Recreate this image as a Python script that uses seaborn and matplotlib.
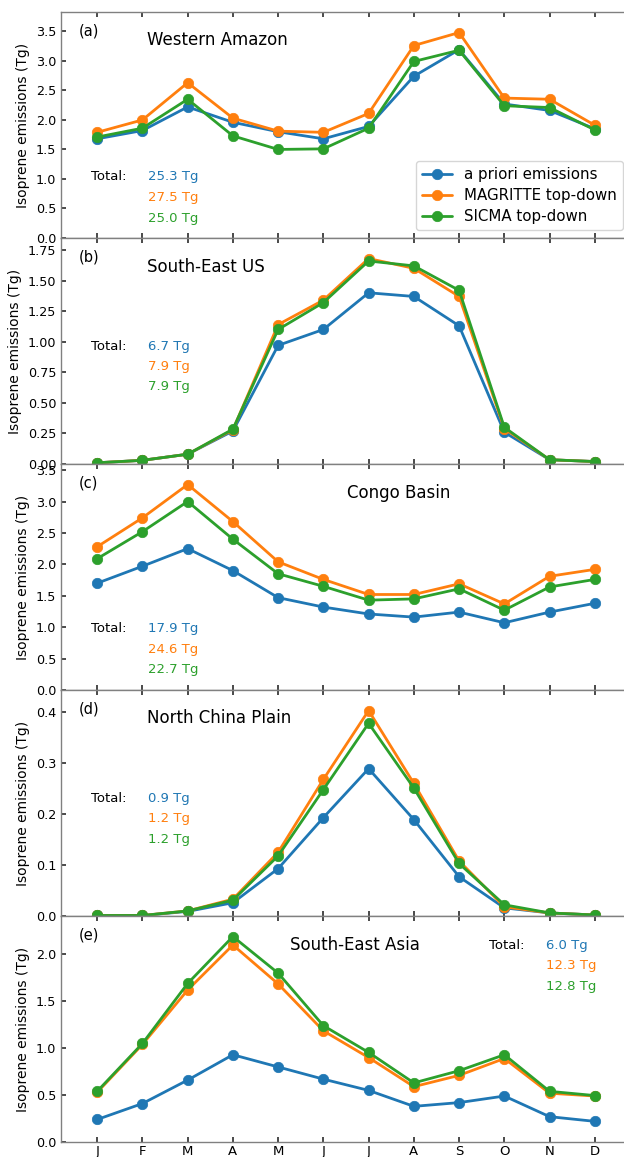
import numpy as np
import pandas as pd
import matplotlib
matplotlib.use("Agg")
import matplotlib.pyplot as plt
import seaborn as sns

# Monthly isoprene emissions (Tg) per region
months = ["J", "F", "M", "A", "M", "J", "J", "A", "S", "O", "N", "D"]
sources = ["a priori emissions", "MAGRITTE top-down", "SICMA top-down"]
colors = ["#1f77b4", "#ff7f0e", "#2ca02c"]

regions = ["Western Amazon", "South-East US", "Congo Basin",
           "North China Plain", "South-East Asia"]
panel_tags = ["(a)", "(b)", "(c)", "(d)", "(e)"]

amazon_prior = [1.68, 1.82, 2.22, 1.96, 1.80, 1.68, 1.89, 2.74, 3.19, 2.27, 2.16, 1.85]
amazon_magritte = [1.79, 2.00, 2.63, 2.03, 1.81, 1.79, 2.11, 3.26, 3.48, 2.37, 2.35, 1.91]
amazon_sicma = [1.71, 1.86, 2.35, 1.73, 1.50, 1.51, 1.86, 2.99, 3.18, 2.24, 2.21, 1.83]

seus_prior = [0.01, 0.03, 0.08, 0.27, 0.97, 1.10, 1.40, 1.37, 1.13, 0.26, 0.035, 0.02]
seus_magritte = [0.01, 0.03, 0.08, 0.28, 1.14, 1.34, 1.68, 1.60, 1.37, 0.29, 0.035, 0.02]
seus_sicma = [0.01, 0.03, 0.08, 0.285, 1.10, 1.32, 1.66, 1.62, 1.42, 0.30, 0.035, 0.02]

congo_prior = [1.70, 1.97, 2.25, 1.90, 1.47, 1.32, 1.21, 1.16, 1.24, 1.07, 1.24, 1.38]
congo_magritte = [2.28, 2.74, 3.27, 2.68, 2.04, 1.76, 1.52, 1.52, 1.69, 1.37, 1.81, 1.92]
congo_sicma = [2.09, 2.52, 3.00, 2.40, 1.85, 1.65, 1.43, 1.45, 1.61, 1.27, 1.64, 1.76]

ncp_prior = [0.001, 0.001, 0.009, 0.026, 0.093, 0.193, 0.289, 0.189, 0.077, 0.016, 0.006, 0.002]
ncp_magritte = [0.001, 0.001, 0.010, 0.033, 0.125, 0.268, 0.403, 0.260, 0.108, 0.018, 0.006, 0.002]
ncp_sicma = [0.001, 0.001, 0.010, 0.031, 0.118, 0.248, 0.378, 0.251, 0.103, 0.022, 0.006, 0.002]

sea_prior = [0.24, 0.41, 0.66, 0.93, 0.80, 0.67, 0.55, 0.38, 0.42, 0.49, 0.27, 0.22]
sea_magritte = [0.53, 1.04, 1.62, 2.10, 1.685, 1.185, 0.90, 0.59, 0.71, 0.89, 0.52, 0.49]
sea_sicma = [0.54, 1.05, 1.69, 2.19, 1.80, 1.24, 0.955, 0.63, 0.76, 0.93, 0.54, 0.495]

series = [
    (amazon_prior, amazon_magritte, amazon_sicma),
    (seus_prior, seus_magritte, seus_sicma),
    (congo_prior, congo_magritte, congo_sicma),
    (ncp_prior, ncp_magritte, ncp_sicma),
    (sea_prior, sea_magritte, sea_sicma),
]

# Text placement per panel (axes fraction): title x/y, total-label x, value x, value rows y
layout = [
    dict(title=(0.151, 0.876), tx=0.052, vx=0.152, ty=[0.272, 0.179, 0.088]),
    dict(title=(0.151, 0.872), tx=0.052, vx=0.152, ty=[0.518, 0.430, 0.342]),
    dict(title=(0.502, 0.872), tx=0.052, vx=0.152, ty=[0.273, 0.180, 0.092]),
    dict(title=(0.151, 0.876), tx=0.052, vx=0.152, ty=[0.520, 0.432, 0.340]),
    dict(title=(0.402, 0.873), tx=0.751, vx=0.851, ty=[0.869, 0.780, 0.690]),
]

sns.set_theme(style="ticks", rc={
    "axes.edgecolor": "#808080",
    "axes.linewidth": 1.0,
    "axes.labelcolor": "black",
    "text.color": "black",
    "xtick.direction": "in",
    "ytick.direction": "in",
    "xtick.color": "#333333",
    "ytick.color": "#333333",
    "xtick.labelcolor": "black",
    "ytick.labelcolor": "black",
    "xtick.major.size": 3.5,
    "ytick.major.size": 3.5,
    "xtick.major.pad": 2.5,
})
plt.rcParams["font.family"] = ["DejaVu Sans"]

W, H, DPI = 624, 1157, 100
fig = plt.figure(figsize=(W / DPI, H / DPI), dpi=DPI)

ax_left, ax_right = 61, 631
ax_top, ax_bottom = 12, 1142
panel_h = (ax_bottom - ax_top) / 5

for i, (vals, lay) in enumerate(zip(series, layout)):
    rect = [ax_left / W, (H - (ax_top + (i + 1) * panel_h)) / H,
            (ax_right - ax_left) / W, panel_h / H]
    ax = fig.add_axes(rect)

    df = pd.concat([
        pd.DataFrame({"month": np.arange(12), "value": v, "source": s})
        for v, s in zip(vals, sources)
    ], ignore_index=True)

    sns.lineplot(data=df, x="month", y="value", hue="source",
                 hue_order=sources, palette=colors, marker="o",
                 markersize=7.5, markeredgecolor="auto", markeredgewidth=0.5,
                 linewidth=2.0, legend=False, ax=ax)

    vmax = max(max(v) for v in vals)
    ax.set_ylim(0, vmax * 1.1)
    ax.set_xlim(-0.8, 11.8)
    ax.set_xticks(np.arange(12))
    ax.tick_params(axis="x", top=True, bottom=True, labelsize=9.5,
                   labelbottom=(i == 4))
    ax.tick_params(axis="y", left=True, right=False, labelsize=9.2)
    if i == 4:
        ax.set_xticklabels(months)
    ax.set_xlabel("")
    ax.set_ylabel("Isoprene emissions (Tg)", fontsize=10)
    ax.spines["right"].set_visible(False)

    ax.text(0.032, 0.917, panel_tags[i], transform=ax.transAxes,
            fontsize=10.5, va="center", ha="left")
    ax.text(lay["title"][0], lay["title"][1], regions[i], transform=ax.transAxes,
            fontsize=12, va="center", ha="left")
    ax.text(lay["tx"], lay["ty"][0], "Total:", transform=ax.transAxes,
            fontsize=9.5, va="center", ha="left")
    for v, c, yy in zip(vals, colors, lay["ty"]):
        ax.text(lay["vx"], yy, f"{sum(v):.1f} Tg", transform=ax.transAxes,
                fontsize=9.5, va="center", ha="left", color=c)

    if i == 0:
        ax.legend(ax.lines[:3], sources, loc="lower right",
                  bbox_to_anchor=(0.986, 0.036), borderaxespad=0,
                  fontsize=10.8, labelspacing=0.4, frameon=True)

fig.savefig("out.png", dpi=DPI)
